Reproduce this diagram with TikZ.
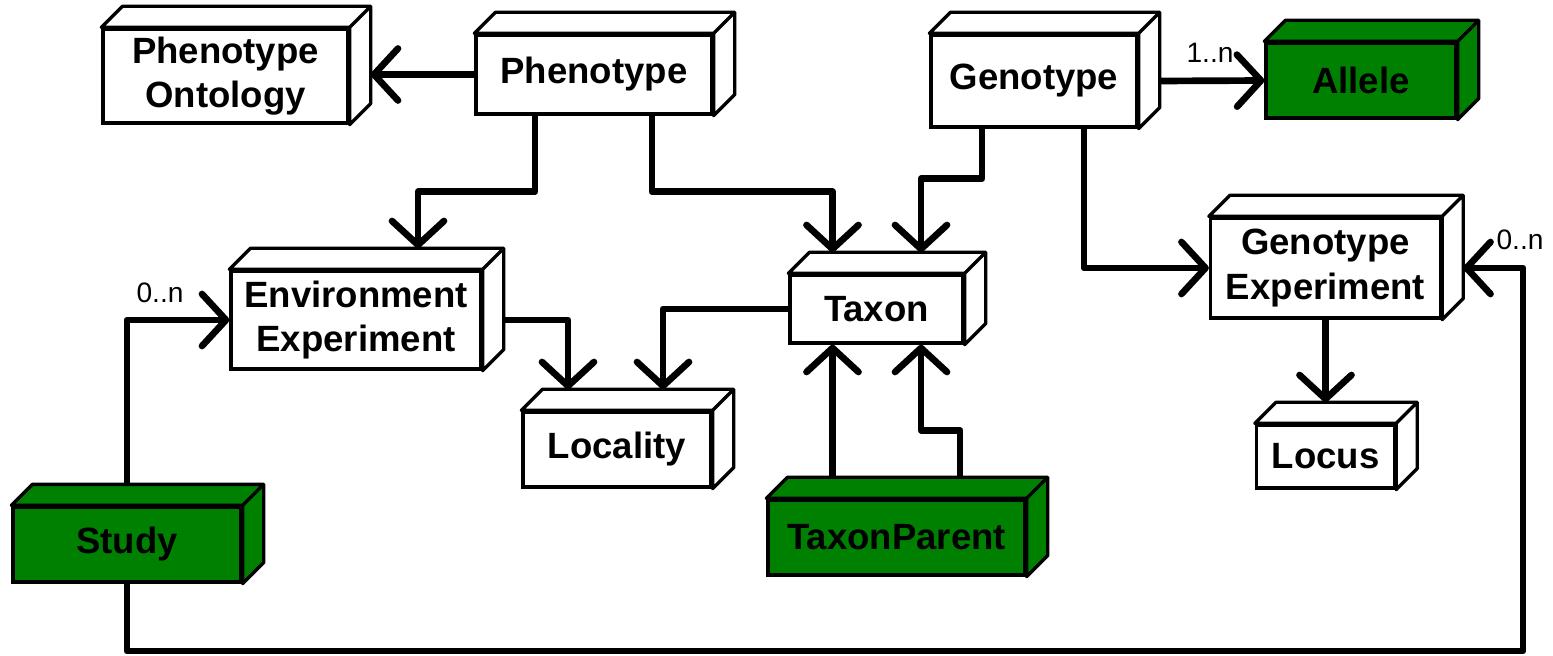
\documentclass[tikz,border=0pt]{standalone}
\usepackage{fontspec}
\setmainfont{Liberation Sans}
\usetikzlibrary{arrows.meta,calc}

\definecolor{Core}{HTML}{008000}
\newcommand{\dep}{0.21}

\begin{document}
\begin{tikzpicture}[
  entity/.style={draw, line width=0.95pt, fill=white, inner sep=0pt, align=center,
    font=\bfseries\fontsize{10.4}{12.6}\selectfont},
  face/.style={line width=0.95pt, line join=round},
  link/.style={line width=1.9pt, line join=round, -{Straight Barb[length=2.4mm, width=5.2mm, round]}},
  mult/.style={font=\fontsize{8}{9}\selectfont, inner sep=0pt}]

 \useasboundingbox (0,0) rectangle (15.53,6.55);

 %%%%%%%%%% Entities (front faces) %%%%%%%%%%
 \node[entity, minimum width=2.45cm, minimum height=0.94cm] (onto) at (2.255,5.79) {Phenotype\\Ontology};
 \node[entity, minimum width=2.36cm, minimum height=0.79cm] (phen) at (5.94,5.805) {Phenotype};
 \node[entity, minimum width=2.06cm, minimum height=0.92cm] (geno) at (10.34,5.74) {Genotype};
 \node[entity, fill=Core, minimum width=1.90cm, minimum height=0.75cm] (allele) at (13.61,5.745) {Allele};
 \node[entity, minimum width=2.50cm, minimum height=0.98cm] (envexp) at (3.56,3.35) {Environment\\Experiment};
 \node[entity, minimum width=1.73cm, minimum height=0.68cm] (taxon) at (8.765,3.46) {Taxon};
 \node[entity, minimum width=1.88cm, minimum height=0.75cm] (locality) at (6.17,2.055) {Locality};
 \node[entity, minimum width=2.30cm, minimum height=1.00cm] (genexp) at (13.255,3.87) {Genotype\\Experiment};
 \node[entity, minimum width=1.38cm, minimum height=0.63cm] (locus) at (13.255,1.985) {Locus};
 \node[entity, fill=Core, minimum width=2.57cm, minimum height=0.75cm] (taxpar) at (8.965,1.175) {TaxonParent};
 \node[entity, fill=Core, minimum width=2.28cm, minimum height=0.75cm] (study) at (1.27,1.105) {Study};

 %%%%%%%%%% Top and side faces %%%%%%%%%%
 \foreach \n/\c in {onto/white, phen/white, geno/white, allele/Core, envexp/white, taxon/white,
                    locality/white, genexp/white, locus/white, taxpar/Core, study/Core}
   \filldraw[face, fill=\c] (\n.north west) -- ++(\dep,\dep) -| ($(\n.south east)+(\dep,\dep)$)
     -- (\n.south east) -- (\n.north east) -- cycle (\n.north east) -- ++(\dep,\dep);

 %%%%%%%%%% Links %%%%%%%%%%
 \coordinate (loop) at (15.23,0.04);

 \draw[link] (phen.west) -- ($(phen.west -| onto.east)+(\dep,0)$);
 \draw[link] ([xshift=-5.9mm]phen.south) -- ++(0,-0.76) -| ($(envexp.north)+(0.62,\dep)$);
 \draw[link] ([xshift=5.8mm]phen.south) -- ++(0,-0.76) -| ($(taxon.north)+(-0.44,\dep)$);
 \draw[link] ([xshift=-5.2mm]geno.south) -- ++(0,-0.50) -| ($(taxon.north)+(0.445,\dep)$);
 \draw[link] ([xshift=5mm]geno.south) |- (genexp.west);
 \draw[link] ($(geno.east)+(\dep,0)$) -- (allele.west);
 \draw[link] (genexp.south) -- ($(locus.north)+(0,\dep)$);
 \draw[link] ($(envexp.east)+(\dep,0)$) -| ($(locality.north)+(-0.49,\dep)$);
 \draw[link] (taxon.west) -| ($(locality.north)+(0.46,\dep)$);
 \draw[link] ($(taxpar.north)+(-0.64,\dep)$) -- ($(taxon.south)+(-0.44,0)$);
 \draw[link] ($(taxpar.north)+(0.635,\dep)$) -- ++(0,0.47) -| ($(taxon.south)+(0.445,0)$);
 \draw[link] ($(study.north)+(0,\dep)$) |- (envexp.west);
 \draw[link] (study.south) |- (loop) |- ($(genexp.east)+(\dep,0)$);

 % multiplicities
 \node[mult] (m1) at (12.10,6.02) {1..n};
 \node[mult] (m2) at (1.60,3.62) {0..n};
 \node[mult] (m3) at (15.20,4.15) {0..n};

\end{tikzpicture}
\end{document}
